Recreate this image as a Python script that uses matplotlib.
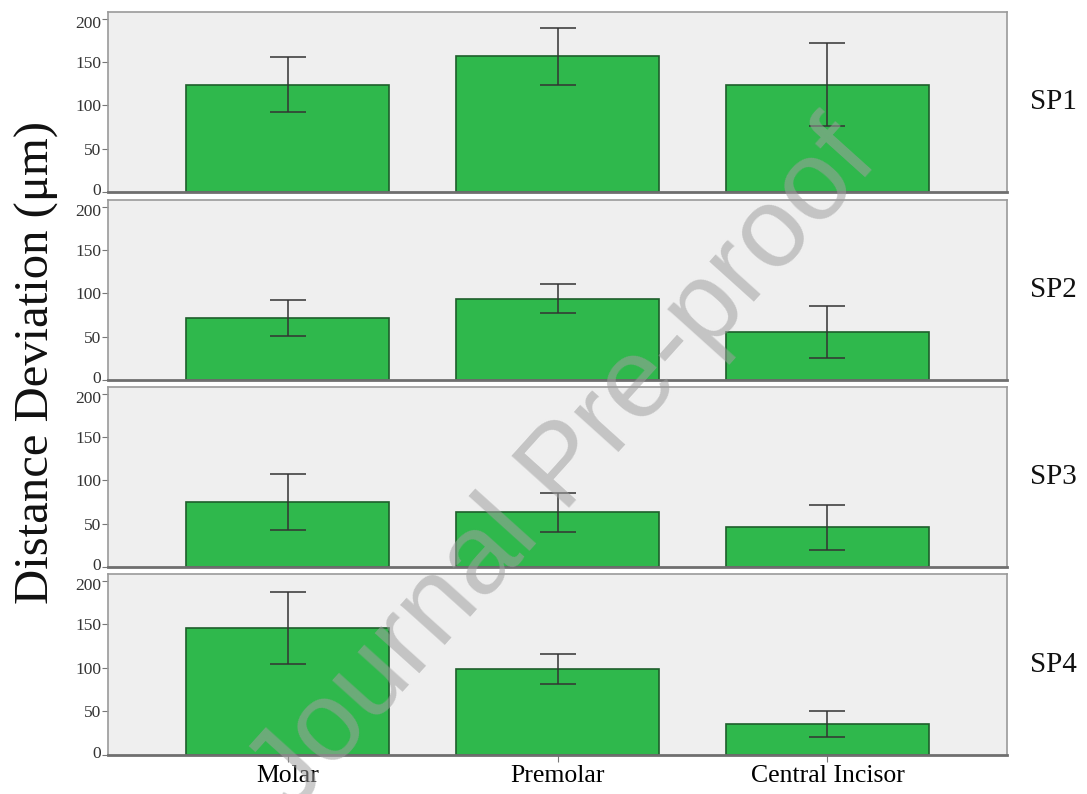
import numpy as np
import matplotlib
matplotlib.use("Agg")
import matplotlib.pyplot as plt
from matplotlib.transforms import ScaledTranslation

# Mean distance deviation (µm) and error half-widths per tooth type
teeth = ["Molar", "Premolar", "Central Incisor"]
panels = ["SP1", "SP2", "SP3", "SP4"]
means = {
    "SP1": [124, 157, 124],
    "SP2": [72, 94, 56],
    "SP3": [75, 63, 46],
    "SP4": [146, 99, 36],
}
errors = {
    "SP1": [32, 33, 48],
    "SP2": [21, 17, 30],
    "SP3": [32, 23, 26],
    "SP4": [41, 17, 15],
}
y_ticks = [0, 50, 100, 150, 200]

plt.rcParams["font.family"] = ["Liberation Serif", "DejaVu Serif"]

fig = plt.figure(figsize=(10.87, 7.94), dpi=100)

# panel rectangles: top/bottom pixel rows of each strip
tops = [12, 200, 387, 574]
bottoms = [192, 380, 567, 755]
W, H = 1087, 794
left, width = 108 / W, 899 / W

x = np.arange(len(teeth))
axes = []
for i, name in enumerate(panels):
    ax = fig.add_axes([left, 1 - bottoms[i] / H, width, (bottoms[i] - tops[i]) / H])
    ax.set_facecolor("#efefef")
    ax.bar(x, means[name], width=0.75, color="#2fb84c", edgecolor="#1e5e2b",
           linewidth=1.2, zorder=2)
    ax.errorbar(x, means[name], yerr=errors[name], fmt="none", ecolor="#333333",
                elinewidth=1.1, capsize=13, capthick=1.1, zorder=3)
    ax.set_xlim(-0.665, 2.665)
    ax.set_ylim(0, 208)
    ax.set_yticks(y_ticks)
    ax.tick_params(axis="y", labelsize=12.5, length=4, color="#777777",
                   labelcolor="#333333", pad=1)
    for side in ["top", "right", "left"]:
        ax.spines[side].set_color("#9a9a9a")
        ax.spines[side].set_linewidth(1.2)
    ax.spines["bottom"].set_color("#6f6f6f")
    ax.spines["bottom"].set_linewidth(2)
    ax.set_xticks(x)
    if i < 3:
        ax.tick_params(axis="x", length=0, labelbottom=False)
    else:
        ax.set_xticklabels(teeth, fontsize=18.5)
        ax.tick_params(axis="x", length=5, color="#777777", pad=2)
    ax.text(1.052, 0.5, name, transform=ax.transAxes, fontsize=21,
            ha="center", va="center", color="#111111")
    axes.append(ax)

# nudge the stacked "0" / "200" labels apart where strips meet
for ax in axes:
    labels = ax.get_yticklabels()
    up = ScaledTranslation(0, 2.5 / 72, fig.dpi_scale_trans)
    down = ScaledTranslation(0, -2.5 / 72, fig.dpi_scale_trans)
    labels[0].set_transform(labels[0].get_transform() + up)
    labels[-1].set_transform(labels[-1].get_transform() + down)

fig.text(0.034, 0.544, "Distance Deviation (μm)", rotation=90, fontsize=35,
         ha="center", va="center", color="#111111")

# diagonal preprint stamp across the figure
fig.text(0.52, 0.41, "Journal Pre-proof", family=["Liberation Sans", "DejaVu Sans"],
         fontsize=82, rotation=48, color="#a0a0a0", alpha=0.55,
         ha="center", va="center", zorder=10)

fig.savefig("out.png", dpi=100)
